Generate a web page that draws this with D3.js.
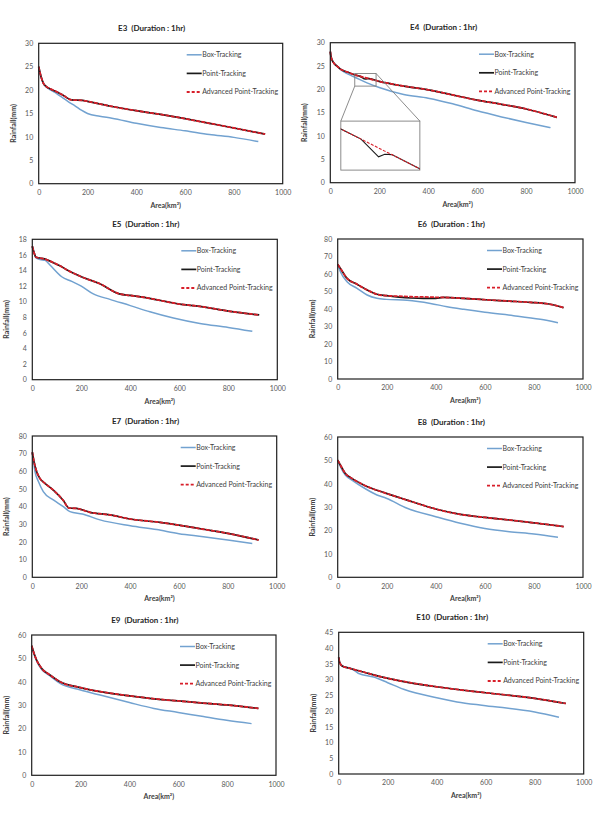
<!DOCTYPE html>
<html><head><meta charset="utf-8">
<script src="https://cdn.jsdelivr.net/npm/d3@7"></script>
<style>body{margin:0;background:#fff}</style>
</head><body>
<svg id="c" width="594" height="815" xmlns="http://www.w3.org/2000/svg"></svg>
<script>
// ---------- DATA ----------
const seriesNames = ["Box-Tracking", "Point-Tracking", "Advanced Point-Tracking"];
const xTicks = [0, 200, 400, 600, 800, 1000];

const e3YTicks = [0, 5, 10, 15, 20, 25, 30];
const e3Area = [0, 5, 10, 20, 30, 50, 75, 100, 135, 180, 200, 300, 400, 500, 600, 700, 800, 928];
const e3Point = [25.0, 23.8, 22.8, 21.4, 20.8, 20.2, 19.6, 18.9, 17.9, 17.8, 17.6, 16.5, 15.6, 14.8, 13.9, 12.9, 11.9, 10.6];
const e3Adv = [25.0, 23.8, 22.8, 21.4, 20.8, 20.2, 19.6, 18.9, 17.9, 17.8, 17.6, 16.5, 15.6, 14.8, 13.9, 12.9, 11.9, 10.6];
const e3BoxArea = [0, 5, 10, 20, 30, 50, 75, 100, 125, 150, 175, 200, 250, 300, 400, 500, 600, 700, 800, 900];
const e3Box = [25.0, 23.8, 22.8, 21.3, 20.7, 20.0, 19.2, 18.3, 17.4, 16.6, 15.7, 15.0, 14.4, 14.0, 12.9, 12.0, 11.3, 10.5, 9.9, 9.0];

const e4YTicks = [0, 5, 10, 15, 20, 25, 30];
const e4Area = [0, 3, 8, 15, 27, 40, 54, 75, 100, 123, 143, 150, 158, 200, 300, 400, 500, 600, 700, 800, 900, 926];
const e4Point = [28.1, 27.0, 26.2, 25.6, 25.0, 24.4, 24.0, 23.6, 23.1, 22.78, 22.22, 22.30, 22.29, 21.7, 20.7, 19.9, 18.8, 17.7, 16.8, 15.8, 14.4, 14.0];
const e4Adv = [28.1, 27.0, 26.2, 25.6, 25.0, 24.4, 24.0, 23.6, 23.1, 22.78, 22.50, 22.40, 22.29, 21.7, 20.7, 19.9, 18.8, 17.7, 16.8, 15.8, 14.4, 14.0];
const e4BoxArea = [0, 3, 8, 15, 27, 40, 54, 75, 100, 150, 200, 300, 400, 500, 600, 700, 800, 900];
const e4Box = [28.1, 27.0, 26.2, 25.6, 25.0, 24.4, 23.8, 23.2, 22.6, 21.4, 20.4, 18.9, 18.1, 16.9, 15.4, 14.1, 12.9, 11.8];
// zoomed window of E4 (area range, rainfall range)
const e4ZoomArea = [100, 190];
const e4ZoomRain = [21.8, 23.35];

const e5YTicks = [0, 2, 4, 6, 8, 10, 12, 14, 16, 18];
const e5Area = [0, 8, 15, 31, 58, 72, 113, 140, 200, 276, 355, 400, 467, 600, 684, 800, 926];
const e5Point = [17.1, 16.2, 15.7, 15.6, 15.4, 15.2, 14.6, 14.1, 13.2, 12.3, 11.0, 10.8, 10.5, 9.7, 9.4, 8.8, 8.3];
const e5Adv = [17.1, 16.2, 15.7, 15.6, 15.4, 15.2, 14.6, 14.1, 13.2, 12.3, 11.0, 10.8, 10.5, 9.7, 9.4, 8.8, 8.3];
const e5BoxArea = [0, 8, 15, 31, 52, 72, 120, 161, 200, 249, 317, 400, 480, 576, 684, 800, 898];
const e5Box = [17.1, 16.2, 15.6, 15.4, 15.3, 14.7, 13.2, 12.6, 12.0, 11.0, 10.3, 9.5, 8.7, 7.9, 7.2, 6.7, 6.2];

const e6YTicks = [0, 10, 20, 30, 40, 50, 60, 70, 80];
const e6Area = [0, 11, 38, 79, 120, 160, 198, 250, 300, 350, 400, 430, 514, 600, 700, 785, 867, 921];
const e6Point = [65.5, 63.2, 57.5, 54.1, 50.9, 48.4, 47.6, 46.8, 46.3, 46.1, 46.1, 46.6, 46.1, 45.3, 44.5, 43.8, 42.7, 40.8];
const e6Adv = [65.5, 63.2, 57.5, 54.1, 50.9, 48.4, 47.6, 47.3, 47.0, 46.9, 46.7, 46.6, 46.1, 45.3, 44.5, 43.8, 42.7, 40.8];
const e6BoxArea = [0, 11, 38, 79, 120, 160, 198, 283, 378, 446, 514, 600, 717, 826, 898];
const e6Box = [65.5, 61.3, 55.6, 51.8, 48.0, 46.1, 45.5, 45.0, 43.2, 41.3, 39.8, 38.1, 36.2, 34.1, 32.2];

const e7YTicks = [0, 10, 20, 30, 40, 50, 60, 70, 80];
const e7Area = [0, 7, 18, 31, 52, 86, 127, 150, 181, 236, 318, 401, 523, 600, 700, 800, 926];
const e7Point = [70.8, 65.5, 59.8, 56.0, 53.2, 49.4, 43.5, 39.2, 39.0, 36.8, 35.3, 33.0, 31.1, 29.5, 27.2, 24.9, 21.1];
const e7Adv = [70.8, 65.5, 59.8, 56.0, 53.2, 49.4, 43.5, 39.2, 39.0, 36.8, 35.3, 33.0, 31.1, 29.5, 27.2, 24.9, 21.1];
const e7BoxArea = [0, 11, 25, 45, 86, 127, 154, 205, 277, 401, 509, 600, 700, 800, 900];
const e7Box = [70.8, 59.8, 54.2, 48.5, 43.8, 40.0, 37.2, 35.8, 32.5, 29.2, 27.0, 24.7, 23.0, 21.1, 19.2];

const e8YTicks = [0, 10, 20, 30, 40, 50, 60];
const e8Area = [0, 11, 31, 58, 106, 198, 283, 400, 500, 600, 700, 800, 921];
const e8Point = [50.1, 48.0, 44.4, 42.3, 39.5, 35.9, 33.0, 29.2, 26.9, 25.6, 24.5, 23.3, 21.7];
const e8Adv = [50.1, 48.0, 44.4, 42.3, 39.5, 35.9, 33.0, 29.2, 26.9, 25.6, 24.5, 23.3, 21.7];
const e8BoxArea = [0, 11, 31, 58, 106, 160, 198, 283, 400, 500, 600, 700, 800, 898];
const e8Box = [50.1, 47.3, 43.7, 41.6, 38.3, 35.2, 33.8, 29.5, 25.9, 23.1, 20.9, 19.5, 18.5, 17.1];

const e9YTicks = [0, 10, 20, 30, 40, 50, 60];
const e9Area = [0, 7, 20, 41, 75, 116, 200, 280, 400, 553, 600, 700, 798, 928];
const e9Point = [55.4, 52.9, 49.3, 45.7, 42.9, 40.0, 37.5, 35.8, 34.0, 32.2, 31.8, 30.9, 30.1, 28.6];
const e9Adv = [55.4, 52.9, 49.3, 45.7, 42.9, 40.0, 37.5, 35.8, 34.0, 32.2, 31.8, 30.9, 30.1, 28.6];
const e9BoxArea = [0, 7, 20, 41, 75, 116, 200, 280, 400, 500, 600, 703, 798, 900];
const e9Box = [55.4, 52.6, 48.9, 45.2, 42.5, 39.3, 36.5, 34.3, 31.1, 28.6, 26.9, 25.1, 23.5, 22.1];

const e10YTicks = [0, 5, 10, 15, 20, 25, 30, 35, 40, 45];
const e10Area = [0, 4, 14, 48, 100, 170, 250, 400, 510, 600, 800, 927];
const e10Point = [37.0, 35.4, 34.3, 33.5, 32.4, 30.9, 29.6, 27.7, 26.6, 25.8, 24.0, 22.4];
const e10Adv = [37.0, 35.4, 34.3, 33.5, 32.4, 30.9, 29.6, 27.7, 26.6, 25.8, 24.0, 22.4];
const e10BoxArea = [0, 4, 14, 48, 68, 82, 143, 200, 265, 400, 483, 600, 800, 899];
const e10Box = [37.0, 35.4, 34.3, 33.6, 32.7, 31.9, 30.8, 29.0, 26.9, 24.2, 22.9, 21.7, 19.7, 18.0];

// ---------- LAYOUT ----------
const panels = [
  {title:"E3", yTicks:e3YTicks, area:e3Area, point:e3Point, adv:e3Adv, boxArea:e3BoxArea, box:e3Box, L:38.7, R:282.7, T:43.3, B:183.7},
  {title:"E4", yTicks:e4YTicks, area:e4Area, point:e4Point, adv:e4Adv, boxArea:e4BoxArea, box:e4Box, L:330.3, R:575, T:42.7, B:182.7, inset:true},
  {title:"E5", yTicks:e5YTicks, area:e5Area, point:e5Point, adv:e5Adv, boxArea:e5BoxArea, box:e5Box, L:32.3, R:277.3, T:239.3, B:379.7},
  {title:"E6", yTicks:e6YTicks, area:e6Area, point:e6Point, adv:e6Adv, boxArea:e6BoxArea, box:e6Box, L:337.7, R:583, T:239, B:379},
  {title:"E7", yTicks:e7YTicks, area:e7Area, point:e7Point, adv:e7Adv, boxArea:e7BoxArea, box:e7Box, L:32.3, R:276.7, T:436, B:577.3},
  {title:"E8", yTicks:e8YTicks, area:e8Area, point:e8Point, adv:e8Adv, boxArea:e8BoxArea, box:e8Box, L:337.7, R:583, T:437, B:577.3},
  {title:"E9", yTicks:e9YTicks, area:e9Area, point:e9Point, adv:e9Adv, boxArea:e9BoxArea, box:e9Box, L:31.7, R:276, T:635, B:775.3},
  {title:"E10", yTicks:e10YTicks, area:e10Area, point:e10Point, adv:e10Adv, boxArea:e10BoxArea, box:e10Box, L:338.7, R:583.7, T:632.3, B:774}
];

const FONT = "Lato, 'Liberation Sans', sans-serif";
const BLUE = "#72a2d0", BLACK = "#1a1a1a", RED = "#d81f2a";
const svg = d3.select("#c");

function styles(sel, which) {
  if (which === 0) sel.attr("stroke", BLUE).attr("stroke-width", 1.5);
  else if (which === 1) sel.attr("stroke", BLACK).attr("stroke-width", 1.7);
  else sel.attr("stroke", RED).attr("stroke-width", 1.8).attr("stroke-dasharray", "4,1.2");
  return sel.attr("fill", "none").attr("stroke-linejoin", "round");
}

panels.forEach((p, pi) => {
  const yMax = p.yTicks[p.yTicks.length - 1];
  const x = d3.scaleLinear().domain([0, 1000]).range([p.L, p.R]);
  const y = d3.scaleLinear().domain([0, yMax]).range([p.B, p.T]);
  const g = svg.append("g");
  const cx = (p.L + p.R) / 2, cy = (p.T + p.B) / 2;

  // title
  g.append("text").attr("x", cx - 9).attr("y", p.T - 12.5)
    .attr("text-anchor", "middle").attr("font-family", FONT).attr("font-weight", "bold")
    .attr("font-size", 8).attr("fill", "#262626").attr("xml:space", "preserve")
    .text(p.title + "  (Duration : 1hr)");

  // axes
  const ya = g.append("g").attr("transform", `translate(${p.L},0)`)
    .call(d3.axisLeft(y).tickValues(p.yTicks).tickFormat(d3.format("d")).tickSize(0).tickPadding(5.5));
  const xa = g.append("g").attr("transform", `translate(0,${p.B})`)
    .call(d3.axisBottom(x).tickValues(xTicks).tickFormat(d3.format("d")).tickSize(0).tickPadding(6.5));
  [ya, xa].forEach(a => {
    a.select(".domain").remove();
    a.selectAll("text").attr("font-family", FONT).attr("font-size", 7).attr("fill", "#595959");
  });

  // axis titles
  g.append("text").attr("x", cx + 5).attr("y", p.B + 24)
    .attr("text-anchor", "middle").attr("font-family", FONT).attr("font-weight", "bold")
    .attr("font-size", 7).attr("fill", "#404040").text("Area(km²)");
  g.append("text").attr("transform", `translate(${p.L - 23},${cy + 10}) rotate(-90)`)
    .attr("text-anchor", "middle").attr("font-family", FONT).attr("font-weight", "bold")
    .attr("font-size", 7).attr("fill", "#404040").text("Rainfall(mm)");

  // lines
  const line = d3.line().x(d => x(d[0])).y(d => y(d[1])).curve(d3.curveMonotoneX);
  const boxD = p.boxArea.map((a, i) => [a, p.box[i]]);
  const ptD = p.area.map((a, i) => [a, p.point[i]]);
  const advD = p.area.map((a, i) => [a, p.adv[i]]);
  styles(g.append("path").attr("d", line(boxD)), 0);
  styles(g.append("path").attr("d", line(ptD)), 1);
  styles(g.append("path").attr("d", line(advD)), 2);

  // plot border
  g.append("rect").attr("x", p.L).attr("y", p.T).attr("width", p.R - p.L).attr("height", p.B - p.T)
    .attr("fill", "none").attr("stroke", "#1f1f1f").attr("stroke-width", 1.2);

  // legend
  seriesNames.forEach((n, i) => {
    const ly = p.T + 11.5 + i * 18.6;
    const ls = styles(g.append("line").attr("x1", p.R - 96).attr("x2", p.R - 81).attr("y1", ly).attr("y2", ly), i);
    if (i === 2) ls.attr("stroke-dasharray", "3,2");
    g.append("text").attr("x", p.R - 80.5).attr("y", ly).attr("dy", "0.35em")
      .attr("font-family", FONT).attr("font-size", 7).attr("fill", "#404040").text(n);
  });

  // E4 zoom inset
  if (p.inset) {
    const sx0 = x(100), sx1 = x(187), sy0 = y(23.4), sy1 = y(20.7);
    const bx0 = x(43), bx1 = x(366), by0 = y(13.2), by1 = y(2.7);
    const GR = "#7f7f7f";
    g.append("line").attr("x1", sx0).attr("y1", sy1).attr("x2", bx0).attr("y2", by0).attr("stroke", GR).attr("stroke-width", 0.9);
    g.append("line").attr("x1", sx1).attr("y1", sy0).attr("x2", bx1).attr("y2", by0).attr("stroke", GR).attr("stroke-width", 0.9);
    g.append("rect").attr("x", sx0).attr("y", sy0).attr("width", sx1 - sx0).attr("height", sy1 - sy0)
      .attr("fill", "none").attr("stroke", GR).attr("stroke-width", 0.9);
    g.append("rect").attr("x", bx0).attr("y", by0).attr("width", bx1 - bx0).attr("height", by1 - by0)
      .attr("fill", "#fff").attr("stroke", GR).attr("stroke-width", 0.9);
    svg.append("clipPath").attr("id", "insetClip").append("rect")
      .attr("x", bx0).attr("y", by0).attr("width", bx1 - bx0).attr("height", by1 - by0);
    const ix = d3.scaleLinear().domain(e4ZoomArea).range([bx0, bx1]);
    const iy = d3.scaleLinear().domain(e4ZoomRain).range([by1, by0]);
    const il = d3.line().x(d => ix(d[0])).y(d => iy(d[1]));
    const ig = g.append("g").attr("clip-path", "url(#insetClip)");
    ig.append("path").attr("d", il(ptD)).attr("fill", "none").attr("stroke", BLACK).attr("stroke-width", 1.1);
    ig.append("path").attr("d", il(advD)).attr("fill", "none").attr("stroke", RED).attr("stroke-width", 1.1).attr("stroke-dasharray", "3,1.5");
  }
});
</script>
</body></html>
